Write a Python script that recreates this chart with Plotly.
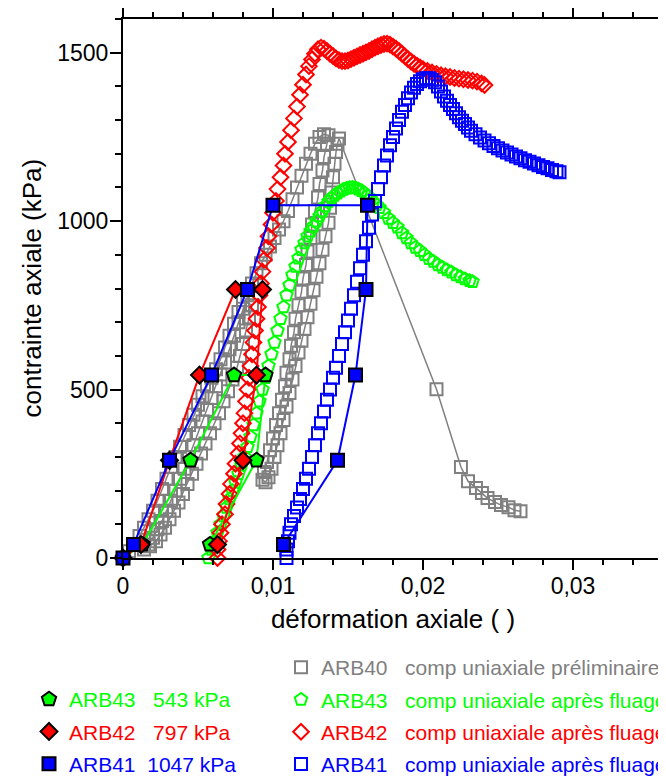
import plotly.graph_objects as go

# ---------------- data ----------------
# ARB40 comp uniaxiale préliminaire (grey, cyclic)
gray_x = [0, 0.0004, 0.0008, 0.0011, 0.0014, 0.0017, 0.0020, 0.0023, 0.0026, 0.0029, 0.0032, 0.0035, 0.0038,
          0.0041, 0.0044, 0.0047, 0.0050, 0.0053, 0.0056, 0.0059, 0.0062, 0.0065, 0.0068, 0.0071, 0.0074, 0.0077, 0.0080,
          0.0086, 0.0084, 0.0082, 0.0080, 0.0078, 0.0076, 0.0073, 0.0070, 0.0067, 0.0064, 0.0061, 0.0058, 0.0055,
          0.0052, 0.0049, 0.0046, 0.0043, 0.0040, 0.0037, 0.0034, 0.0031, 0.0028, 0.0025, 0.0022, 0.0018, 0.0014,
          0.0017, 0.0020, 0.0023, 0.0026, 0.0029, 0.0032, 0.0035, 0.0038, 0.0041, 0.0044, 0.0047, 0.0050, 0.0053,
          0.0056, 0.0059, 0.0062, 0.0065, 0.0068, 0.0071, 0.0074, 0.0077, 0.0080, 0.0083, 0.0086, 0.0089, 0.0092,
          0.0095, 0.0098, 0.0101, 0.0104, 0.0107, 0.0110, 0.0113, 0.0116, 0.0119, 0.0122, 0.0125, 0.0128, 0.0131,
          0.0134, 0.0137,
          0.0136, 0.0134, 0.0133, 0.0131, 0.0130, 0.0128, 0.0126, 0.0125, 0.0123, 0.0122, 0.0120, 0.0119, 0.0117,
          0.0115, 0.0114, 0.0112, 0.0111, 0.0109, 0.0108, 0.0106, 0.0104, 0.0102, 0.0100, 0.0098, 0.0096, 0.0094, 0.0093,
          0.0095, 0.0097, 0.0099, 0.0101, 0.0103, 0.0105, 0.0107, 0.0109, 0.0111, 0.0113, 0.0115, 0.0117, 0.0119,
          0.0121, 0.0123, 0.0125, 0.0127, 0.0129, 0.0131, 0.0133, 0.0135, 0.0137, 0.0138, 0.0139, 0.0140, 0.0141,
          0.0142, 0.0143, 0.0144,
          0.0209, 0.02253, 0.0230, 0.02353, 0.02393, 0.0243, 0.0248, 0.0252, 0.0257, 0.0261, 0.0265]
gray_y = [0, 20, 40, 65, 90, 115, 140, 170, 205, 235, 270, 300, 330,
          365, 395, 425, 455, 480, 510, 535, 560, 590, 625, 660, 695, 730, 765,
          750, 715, 675, 635, 600, 565, 530, 495, 465, 430, 400, 370, 340,
          310, 280, 250, 220, 190, 165, 140, 115, 90, 70, 50, 35, 25,
          40, 60, 85, 110, 140, 170, 200, 235, 265, 300, 335, 370, 405,
          440, 475, 510, 545, 580, 620, 660, 700, 740, 780, 815, 845, 875,
          900, 925, 950, 975, 1000, 1030, 1065, 1100, 1135, 1170, 1200, 1230, 1250,
          1258, 1255,
          1230, 1190, 1150, 1110, 1070, 1030, 990, 950, 910, 870, 830, 790, 750,
          710, 670, 630, 590, 550, 510, 470, 430, 395, 355, 320, 285, 255, 232,
          225, 240, 265, 300, 335, 370, 410, 450, 490, 530, 570, 610, 645,
          680, 715, 755, 795, 835, 875, 915, 955, 995, 1040, 1085, 1130, 1170,
          1205, 1230, 1245,
          501, 270, 228, 208, 193, 178, 166, 157, 151, 142, 139]

# ARB43 comp uniaxiale après fluage (green open pentagons)
green_x = [0.0057, 0.0059, 0.0061, 0.0063, 0.0065, 0.0067, 0.0069, 0.0071, 0.0073, 0.0075, 0.0077, 0.0079, 0.0081,
           0.0083, 0.0085, 0.0087, 0.0089, 0.0091, 0.0093, 0.0095, 0.0097, 0.0099, 0.0101, 0.0103, 0.0105, 0.0107,
           0.0109, 0.0111, 0.0113, 0.0115, 0.0117, 0.0119, 0.0121, 0.0123, 0.0125, 0.0127, 0.0129, 0.0131, 0.0133,
           0.0135, 0.0137, 0.0139, 0.0141, 0.0143, 0.0145, 0.0147, 0.0149, 0.0151, 0.0153, 0.0155, 0.0157, 0.0159,
           0.0161, 0.0163, 0.0165, 0.0167, 0.0169, 0.0171, 0.0174, 0.0177, 0.0180, 0.0183, 0.0186, 0.0189, 0.0192,
           0.0195, 0.0198, 0.0201, 0.0204, 0.0207, 0.0210, 0.0213, 0.0216, 0.0219, 0.0222, 0.0225, 0.0228, 0.0231, 0.0233]
green_y = [0, 25, 50, 75, 100, 125, 150, 175, 200, 225, 250, 275, 300,
           330, 360, 395, 430, 465, 500, 535, 570, 605, 640, 675, 710, 745,
           780, 810, 840, 865, 890, 915, 935, 955, 970, 985, 1000, 1015, 1030,
           1045, 1058, 1068, 1076, 1083, 1089, 1094, 1097, 1099, 1100, 1098, 1095, 1090,
           1083, 1075, 1066, 1057, 1048, 1040, 1025, 1008, 995, 982, 965, 950, 935,
           922, 912, 900, 888, 880, 870, 862, 855, 848, 840, 834, 828, 823, 820]

# ARB42 comp uniaxiale après fluage (red open diamonds)
red_x = [0.0063, 0.0063, 0.0064, 0.0065, 0.0066, 0.0068, 0.0069, 0.0071, 0.0072, 0.0074, 0.0075, 0.0077, 0.0078,
         0.0079, 0.0080, 0.0081, 0.0082, 0.0083, 0.0084, 0.0085, 0.0086, 0.0087, 0.0088, 0.0089, 0.0090, 0.0091,
         0.0092, 0.0093, 0.0094, 0.0096, 0.0097, 0.0099, 0.0100, 0.0102, 0.0103, 0.0105, 0.0107, 0.0108, 0.0110,
         0.0112, 0.0114, 0.0116, 0.0118, 0.0120, 0.0122, 0.0124, 0.0126, 0.0128, 0.0130, 0.0132, 0.0134, 0.0136,
         0.0138, 0.0140, 0.0142, 0.0144, 0.0146, 0.0148, 0.0150, 0.0152, 0.0154, 0.0156, 0.0158, 0.0160, 0.0162,
         0.0164, 0.0166, 0.0168, 0.0170, 0.0172, 0.0174, 0.0176, 0.0178, 0.0180, 0.0182, 0.0184, 0.0186, 0.0188,
         0.0190, 0.0192, 0.0194, 0.0196, 0.0198, 0.0200, 0.0203, 0.0206, 0.0209, 0.0212, 0.0215, 0.0218, 0.0221,
         0.0224, 0.0227, 0.0230, 0.0233, 0.0236, 0.0239, 0.0241]
red_y = [0, 25, 50, 75, 100, 130, 160, 190, 220, 250, 280, 310, 340,
         370, 400, 430, 465, 500, 535, 570, 605, 640, 675, 710, 745, 780,
         815, 850, 885, 920, 955, 990, 1025, 1060, 1095, 1130, 1165, 1200, 1235,
         1270, 1305, 1340, 1375, 1405, 1435, 1460, 1480, 1497, 1510, 1515, 1512, 1505,
         1497, 1490, 1483, 1478, 1475, 1475, 1477, 1481, 1485, 1489, 1493, 1497, 1501,
         1505, 1510, 1515, 1519, 1523, 1526, 1527, 1524, 1518, 1512, 1505, 1497, 1489,
         1481, 1474, 1467, 1461, 1456, 1451, 1446, 1441, 1437, 1433, 1430, 1428, 1425,
         1423, 1421, 1419, 1417, 1414, 1409, 1404]

# ARB41 comp uniaxiale après fluage (blue open squares)
blue_x = [0.0109, 0.0109, 0.0110, 0.0111, 0.0112, 0.0114, 0.0116, 0.0118, 0.0120, 0.0122, 0.0124, 0.0126, 0.0128,
          0.0130, 0.0132, 0.0134, 0.0136, 0.0138, 0.0140, 0.0142, 0.0144, 0.0146, 0.0148, 0.0150, 0.0152, 0.0154,
          0.0156, 0.0158, 0.0160, 0.0162, 0.0164, 0.0166, 0.0168, 0.0170, 0.0172, 0.0174, 0.0176, 0.0178, 0.0180,
          0.0182, 0.0184, 0.0186, 0.0188, 0.0190, 0.0192, 0.0194, 0.0196, 0.0198, 0.0200, 0.0202, 0.0204, 0.0206,
          0.0208, 0.0210, 0.0212, 0.0214, 0.0216, 0.0218, 0.0220, 0.0222, 0.0224, 0.0226, 0.0228, 0.0230, 0.0232,
          0.0235, 0.0238, 0.0241, 0.0244, 0.0247, 0.0250, 0.0253, 0.0256, 0.0259, 0.0262, 0.0265, 0.0268, 0.0271,
          0.0274, 0.0277, 0.0280, 0.0283, 0.0286, 0.0289, 0.0291]
blue_y = [0, 25, 50, 75, 100, 125, 150, 175, 205, 235, 265, 300, 335,
          370, 400, 435, 470, 500, 535, 565, 600, 635, 670, 705, 740, 780,
          820, 860, 900, 940, 980, 1020, 1060, 1095, 1130, 1165, 1195, 1225, 1250,
          1275, 1300, 1325, 1345, 1365, 1382, 1396, 1407, 1415, 1421, 1424, 1424, 1420,
          1412, 1400, 1385, 1370, 1357, 1345, 1333, 1320, 1308, 1298, 1288, 1278, 1268,
          1258, 1248, 1239, 1231, 1223, 1216, 1210, 1204, 1198, 1192, 1187, 1181, 1176,
          1171, 1166, 1161, 1157, 1152, 1148, 1145]

# Creep tests (filled symbols)
arb43_x = [0, 0.0013, 0.0045, 0.0074, 0.0095, 0.0089, 0.0058]
arb43_y = [0, 40, 290, 543, 543, 290, 40]
arb42_x = [0, 0.0012, 0.0031, 0.0051, 0.0075, 0.0093, 0.0089, 0.0080, 0.0063]
arb42_y = [0, 40, 290, 543, 797, 797, 543, 290, 40]
arb41_x = [0, 0.0007, 0.0031, 0.0059, 0.0083, 0.0100, 0.0163, 0.0162, 0.0155, 0.0143, 0.0107]
arb41_y = [0, 40, 290, 543, 797, 1047, 1047, 797, 543, 290, 40]

GRAY, GREEN, RED, BLUE = "#808080", "#00ff00", "#ff0000", "#0000ff"
NB = "\u00a0"

# the page body adds an 8 px margin, so the figure is 8 px smaller than the window
FIG_W, FIG_H = 658, 770
ML, MR, MT, MB = 115, 3, 11, 220


def lab(text, color):
    return f'<span style="color:{color}">{text}</span>'


fig = go.Figure()

# open (dense) series
fig.add_trace(go.Scatter(x=gray_x, y=gray_y, mode="lines", line=dict(color=GRAY, width=1.5),
                         showlegend=False, hoverinfo="skip", cliponaxis=False))
open_series = [
    (gray_x, gray_y, GRAY, "square-open", 12, "ARB40" + NB * 3 + "comp uniaxiale préliminaire"),
    (green_x, green_y, GREEN, "pentagon-open", 13, "ARB43" + NB * 3 + "comp uniaxiale après fluage"),
    (red_x, red_y, RED, "diamond-open", 12, "ARB42" + NB * 3 + "comp uniaxiale après fluage"),
    (blue_x, blue_y, BLUE, "square-open", 12, "ARB41" + NB * 3 + "comp uniaxiale après fluage"),
]
for i, (xs, ys, c, sym, sz, nm) in enumerate(open_series):
    fig.add_trace(go.Scatter(x=xs, y=ys, mode="markers", legend="legend2", legendgroup=f"o{i}",
                             name=lab(nm, c),
                             marker=dict(symbol=sym, size=sz, color=c, line=dict(color=c, width=2)),
                             cliponaxis=False))

# filled creep series: lines first, then markers
for xs, ys, c in [(arb43_x, arb43_y, GREEN), (arb42_x, arb42_y, RED), (arb41_x, arb41_y, BLUE)]:
    fig.add_trace(go.Scatter(x=xs, y=ys, mode="lines", line=dict(color=c, width=2),
                             showlegend=False, hoverinfo="skip", cliponaxis=False))

filled_series = [
    (arb43_x, arb43_y, GREEN, "pentagon", 15, "ARB43" + NB * 3 + "543 kPa"),
    (arb42_x, arb42_y, RED, "diamond", 13, "ARB42" + NB * 3 + "797 kPa"),
    (arb41_x, arb41_y, BLUE, "square", 13, "ARB41" + NB * 2 + "1047 kPa"),
]
for i, (xs, ys, c, sym, sz, nm) in enumerate(filled_series):
    fig.add_trace(go.Scatter(x=xs, y=ys, mode="markers", legend="legend", legendgroup=f"f{i}",
                             name=lab(nm, c),
                             marker=dict(symbol=sym, size=sz, color=c, line=dict(color="black", width=2)),
                             cliponaxis=False))

axis_common = dict(showline=True, linewidth=2, linecolor="black", mirror="ticks", ticks="outside",
                   tickwidth=2, tickcolor="black", showgrid=False, zeroline=False, automargin=True,
                   tickfont=dict(size=23, color="black"))

plot_w = FIG_W - ML - MR

fig.update_layout(
    width=FIG_W, height=FIG_H, autosize=False,
    paper_bgcolor="white", plot_bgcolor="white",
    separators=", ",
    font=dict(family="Liberation Sans, Arial, sans-serif", color="black"),
    margin=dict(l=ML, r=MR, t=MT, b=MB, autoexpand=False),
    xaxis=dict(range=[0, 0.036], tickmode="linear", tick0=0, dtick=0.01, ticklen=10, ticklabelstandoff=-4,
               minor=dict(dtick=0.002, ticks="outside", ticklen=5, tickwidth=2, tickcolor="black"),
               title=dict(text="déformation axiale ( )", font=dict(size=26, color="black"), standoff=12),
               **axis_common),
    yaxis=dict(range=[0, 1600], tickmode="linear", tick0=0, dtick=500, ticklen=11, ticklabelstandoff=-3,
               minor=dict(dtick=100, ticks="outside", ticklen=6, tickwidth=2, tickcolor="black"),
               **axis_common),
    annotations=[dict(text="contrainte axiale (kPa)", textangle=-90, showarrow=False,
                      xref="paper", yref="paper", x=(23 - ML) / plot_w, y=0.5,
                      xanchor="center", yanchor="middle", font=dict(size=26, color="black"))],
    legend=dict(x=21 / FIG_W, y=1 - 671 / FIG_H, xref="container", yref="container", xanchor="left", yanchor="top",
                bgcolor="rgba(0,0,0,0)", font=dict(size=21), tracegroupgap=2, itemclick=False),
    legend2=dict(x=273 / FIG_W, y=1 - 639 / FIG_H, xref="container", yref="container", xanchor="left",
                 yanchor="top", bgcolor="rgba(0,0,0,0)", font=dict(size=21), tracegroupgap=2, itemclick=False),
)

fig.write_html("out.html")
